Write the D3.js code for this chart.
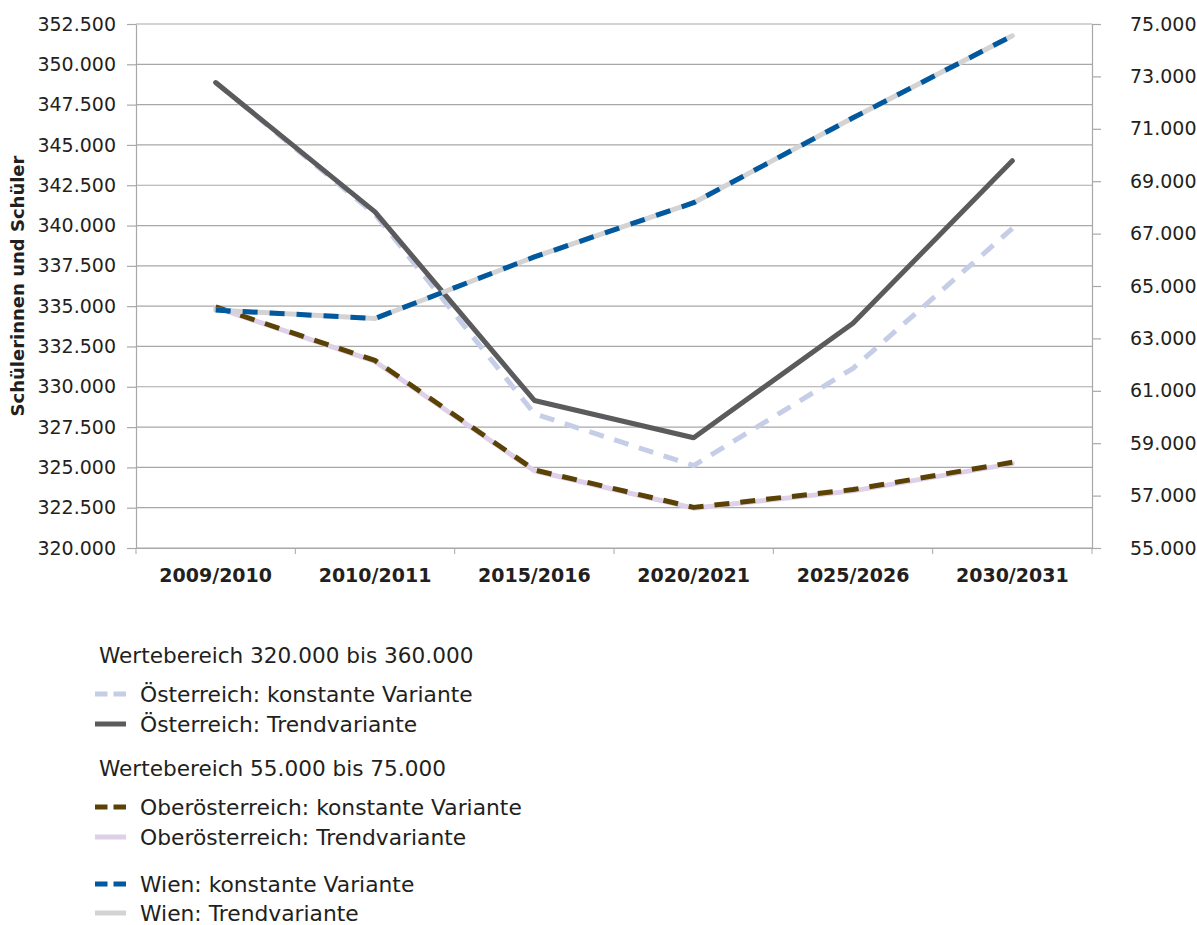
<!DOCTYPE html>
<html>
<head>
<meta charset="utf-8">
<script src="https://cdn.jsdelivr.net/npm/d3@7"></script>
<style>
  body { margin: 0; background: #fff; }
  text { font-family: "DejaVu Sans", sans-serif; fill: #231f20; }
</style>
</head>
<body>
<div id="chart"></div>
<script>
// School years on the x axis
var years = ["2009/2010", "2010/2011", "2015/2016", "2020/2021", "2025/2026", "2030/2031"];

// Left axis (320.000 - 352.500)
var oeKonstant = [348870, 340700, 328330, 325110, 331140, 339820];
var oeTrend = [348870, 340850, 329150, 326840, 333940, 344020];

// Right axis (55.000 - 75.000)
var ooeKonstant = [64200, 62160, 57980, 56550, 57230, 58270];
var ooeTrend = [64180, 62120, 57950, 56520, 57180, 58220];
var wienKonstant = [64080, 63760, 66110, 68180, 71420, 74550];
var wienTrend = [64080, 63760, 66110, 68180, 71420, 74550];

var leftTicks = d3.range(320000, 352501, 2500);
var rightTicks = d3.range(55000, 75001, 2000);

var width = 1197, height = 925;
var plotLeft = 136, plotRight = 1092, plotTop = 24, plotBottom = 548;

var de = d3.formatLocale({ decimal: ",", thousands: ".", grouping: [3], currency: ["", " €"] });
var fmt = de.format(",d");

var svg = d3.select("#chart").append("svg")
  .attr("width", width)
  .attr("height", height);

var x = d3.scaleBand().domain(years).range([plotLeft, plotRight]).padding(0);
var yL = d3.scaleLinear().domain([320000, 352500]).range([plotBottom, plotTop]);
var yR = d3.scaleLinear().domain([55000, 75000]).range([plotBottom, plotTop]);

// gridlines
svg.append("g").selectAll("line")
  .data(leftTicks)
  .enter().append("line")
  .attr("x1", plotLeft).attr("x2", plotRight)
  .attr("y1", function(d) { return yL(d); })
  .attr("y2", function(d) { return yL(d); })
  .attr("stroke", "#a8a8a8")
  .attr("stroke-width", 1.2);

// left axis
var gL = svg.append("g")
  .attr("transform", "translate(" + plotLeft + ",0)")
  .call(d3.axisLeft(yL).tickValues(leftTicks).tickFormat(fmt).tickSize(9).tickPadding(11).tickSizeOuter(0));
gL.selectAll("text").attr("font-size", 19).attr("fill", "#231f20")
  .attr("font-family", "DejaVu Sans Condensed");

// right axis
var gR = svg.append("g")
  .attr("transform", "translate(" + plotRight + ",0)")
  .call(d3.axisRight(yR).tickValues(rightTicks).tickFormat(fmt).tickSize(9).tickPadding(29).tickSizeOuter(0));
gR.selectAll("text").attr("font-size", 19).attr("fill", "#231f20")
  .attr("font-family", "DejaVu Sans Condensed");

// bottom axis, ticks at the band edges
var gX = svg.append("g")
  .attr("transform", "translate(0," + plotBottom + ")")
  .call(d3.axisBottom(x).tickSize(0).tickPadding(21).tickSizeOuter(0));
gX.selectAll("text").attr("font-size", 19).attr("font-weight", "bold").attr("fill", "#231f20")
  .attr("font-family", "DejaVu Sans");
gX.selectAll(".edge")
  .data(d3.range(years.length + 1))
  .enter().append("line")
  .attr("class", "edge")
  .attr("x1", function(i) { return plotLeft + i * x.bandwidth(); })
  .attr("x2", function(i) { return plotLeft + i * x.bandwidth(); })
  .attr("y1", 0).attr("y2", 6)
  .attr("stroke", "#a8a8a8");

svg.selectAll(".domain, .tick line").attr("stroke", "#a8a8a8").attr("stroke-width", 1.2);

// y axis title
svg.append("text")
  .attr("transform", "translate(24," + ((plotTop + plotBottom) / 2) + ")rotate(-90)")
  .attr("text-anchor", "middle")
  .attr("font-size", 18)
  .attr("font-weight", "bold")
  .text("Schülerinnen und Schüler");

// series definitions
var series = [
  { name: "Österreich: konstante Variante", vals: oeKonstant, scale: yL, color: "#c6cde6", dash: "15,11" },
  { name: "Österreich: Trendvariante", vals: oeTrend, scale: yL, color: "#5b5b5d", dash: null },
  { name: "Oberösterreich: Trendvariante", vals: ooeTrend, scale: yR, color: "#ddd0e8", dash: null },
  { name: "Oberösterreich: konstante Variante", vals: ooeKonstant, scale: yR, color: "#5a4104", dash: "15,11" },
  { name: "Wien: Trendvariante", vals: wienTrend, scale: yR, color: "#d3d3d3", dash: null },
  { name: "Wien: konstante Variante", vals: wienKonstant, scale: yR, color: "#00589f", dash: "15,12" }
];

series.forEach(function(s) {
  var line = d3.line()
    .x(function(d, i) { return x(years[i]) + x.bandwidth() / 2; })
    .y(function(d) { return s.scale(d); });
  svg.append("path")
    .datum(s.vals)
    .attr("d", line)
    .attr("fill", "none")
    .attr("stroke", s.color)
    .attr("stroke-width", 5)
    .attr("stroke-linejoin", "round")
    .attr("stroke-linecap", s.dash ? "butt" : "round")
    .attr("stroke-dasharray", s.dash);
});

// legend
var legendRows = [
  { type: "head", text: "Wertebereich 320.000 bis 360.000", y: 655 },
  { type: "item", s: series[0], y: 694 },
  { type: "item", s: series[1], y: 724 },
  { type: "head", text: "Wertebereich 55.000 bis 75.000", y: 768 },
  { type: "item", s: series[3], y: 807 },
  { type: "item", s: series[2], y: 837 },
  { type: "item", s: series[5], y: 884 },
  { type: "item", s: series[4], y: 913 }
];

var legend = svg.append("g");
legendRows.forEach(function(r) {
  if (r.type === "head") {
    legend.append("text")
      .attr("x", 99).attr("y", r.y)
      .attr("dy", "0.35em")
      .attr("font-size", 21.6)
      .text(r.text);
  }
  else {
    legend.append("line")
      .attr("x1", 95).attr("x2", 126)
      .attr("y1", r.y).attr("y2", r.y)
      .attr("stroke", r.s.color)
      .attr("stroke-width", 5)
      .attr("stroke-dasharray", r.s.dash ? "12.5,6" : null);
    legend.append("text")
      .attr("x", 140).attr("y", r.y)
      .attr("dy", "0.35em")
      .attr("font-size", 21.8)
      .text(r.s.name);
  }
});
</script>
</body>
</html>
